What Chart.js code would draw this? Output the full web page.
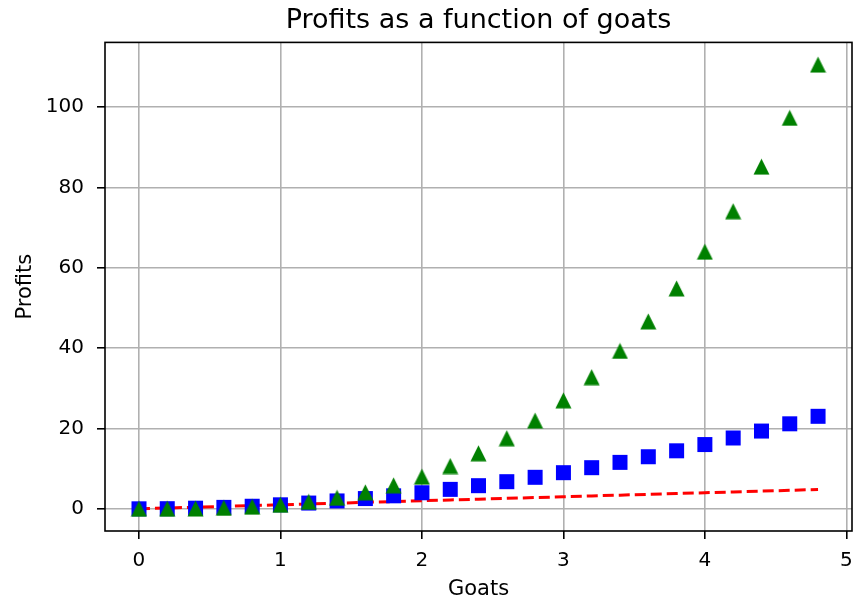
<!DOCTYPE html>
<html>
<head>
<meta charset="utf-8">
<script src="https://cdn.jsdelivr.net/npm/chart.js@4.4.1/dist/chart.umd.min.js"></script>
<style>
  html, body { margin: 0; padding: 0; background: #fff; }
  #wrap { width: 857px; height: 601px; }
</style>
</head>
<body>
<div id="wrap"><canvas id="chart" width="857" height="601"></canvas></div>
<script>
// values
const goats = [0, 0.2, 0.4, 0.6, 0.8, 1, 1.2, 1.4, 1.6, 1.8, 2, 2.2, 2.4, 2.6, 2.8, 3, 3.2, 3.4, 3.6, 3.8, 4, 4.2, 4.4, 4.6, 4.8];
const linearProfits = [0, 0.2, 0.4, 0.6, 0.8, 1, 1.2, 1.4, 1.6, 1.8, 2, 2.2, 2.4, 2.6, 2.8, 3, 3.2, 3.4, 3.6, 3.8, 4, 4.2, 4.4, 4.6, 4.8];
const squareProfits = [0, 0.04, 0.16, 0.36, 0.64, 1, 1.44, 1.96, 2.56, 3.24, 4, 4.84, 5.76, 6.76, 7.84, 9, 10.24, 11.56, 12.96, 14.44, 16, 17.64, 19.36, 21.16, 23.04];
const cubeProfits = [0, 0.008, 0.064, 0.216, 0.512, 1, 1.728, 2.744, 4.096, 5.832, 8, 10.648, 13.824, 17.576, 21.952, 27, 32.768, 39.304, 46.656, 54.872, 64, 74.088, 85.184, 97.336, 110.592];
const xTicks = [0, 1, 2, 3, 4, 5];
const yTicks = [0, 20, 40, 60, 80, 100];

const FONT = "'DejaVu Sans', sans-serif";

function points(ys) {
  return goats.map((x, i) => ({ x: x, y: ys[i] }));
}

// matplotlib-like markers
function marker(kind, color) {
  const s = 17;
  const c = document.createElement('canvas');
  c.width = s; c.height = s;
  const g = c.getContext('2d');
  g.fillStyle = color;
  g.beginPath();
  if (kind === 'square') {
    g.rect(1, 1, 15, 15);
  } else {
    g.moveTo(8.5, 0.5);
    g.lineTo(16.5, 16.5);
    g.lineTo(0.5, 16.5);
    g.closePath();
  }
  g.fill();
  return c;
}

const frame = {
  id: 'frame',
  afterDraw(chart) {
    const a = chart.chartArea;
    const ctx = chart.ctx;
    ctx.save();
    ctx.strokeStyle = '#000';
    ctx.lineWidth = 1.6;
    ctx.strokeRect(a.left, a.top, a.right - a.left, a.bottom - a.top);
    ctx.restore();
  },
};

Chart.defaults.font.family = FONT;
Chart.defaults.color = '#000';

new Chart(document.getElementById('chart'), {
  type: 'scatter',
  data: {
    datasets: [
      {
        data: points(linearProfits),
        showLine: true,
        borderColor: '#ff0000',
        borderWidth: 3,
        borderDash: [11, 5],
        pointRadius: 0,
        order: 2,
      },
      {
        data: points(squareProfits),
        pointStyle: marker('square', '#0000ff'),
        backgroundColor: '#0000ff',
        borderColor: '#0000ff',
        order: 1,
      },
      {
        data: points(cubeProfits),
        pointStyle: marker('triangle', '#008000'),
        backgroundColor: '#008000',
        borderColor: '#008000',
        order: 0,
      },
    ],
  },
  options: {
    responsive: false,
    animation: false,
    layout: { padding: { left: 0, right: 2, top: 0, bottom: 0 } },
    scales: {
      x: {
        type: 'linear',
        min: -0.24,
        max: 5.04,
        afterBuildTicks(s) { s.ticks = xTicks.map(v => ({ value: v })); },
        afterFit(s) { s.height = 70; s.paddingLeft = 0; s.paddingRight = 0; },
        grid: { color: '#b0b0b0', lineWidth: 1.6, tickColor: '#000', tickLength: 8, tickWidth: 1.6 },
        border: { display: false },
        ticks: { font: { size: 20 }, padding: 10, maxRotation: 0 },
        title: { display: true, text: 'Goats', font: { size: 21, lineHeight: 1.1 }, padding: { top: 0, bottom: 0 } },
      },
      y: {
        type: 'linear',
        min: -5.5296,
        max: 116.1216,
        afterBuildTicks(s) { s.ticks = yTicks.map(v => ({ value: v })); },
        afterFit(s) { s.width = 105; s.paddingTop = 0; s.paddingBottom = 0; },
        grid: { color: '#b0b0b0', lineWidth: 1.6, tickColor: '#000', tickLength: 8, tickWidth: 1.6 },
        border: { display: false },
        ticks: { font: { size: 20 }, padding: 13 },
        title: { display: true, text: 'Profits', font: { size: 21, lineHeight: 1.1 }, padding: { top: 14, bottom: 0 } },
      },
    },
    plugins: {
      legend: { display: false },
      tooltip: { enabled: false },
      title: {
        display: true,
        fullSize: false,
        text: 'Profits as a function of goats',
        color: '#000',
        font: { size: 27, weight: 'normal', lineHeight: 1.2 },
        padding: { top: 5, bottom: 5 },
      },
    },
  },
  plugins: [frame],
});
</script>
</body>
</html>
